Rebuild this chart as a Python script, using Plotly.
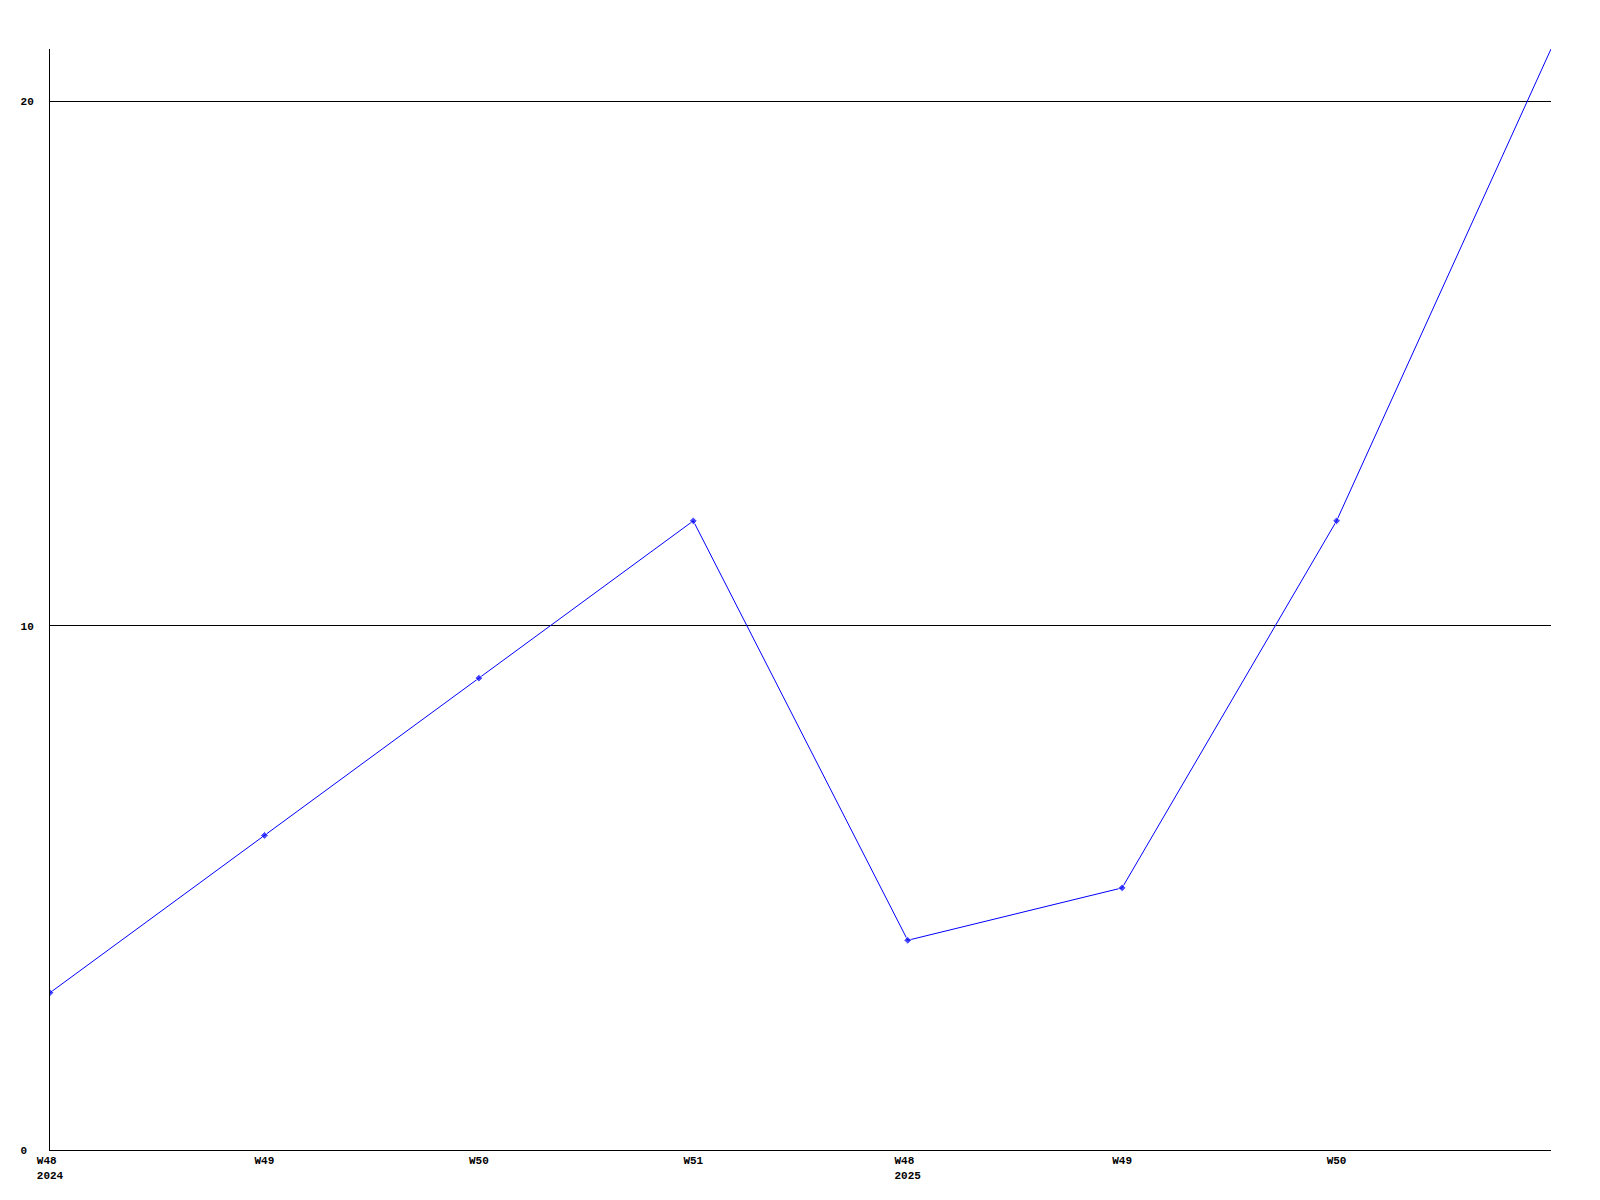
import plotly.graph_objects as go

weeks = ["W48", "W49", "W50", "W51", "W48", "W49", "W50", "W51"]
years = ["2024", "", "", "", "2025", "", "", ""]
values = [3, 6, 9, 12, 4, 5, 12, 21]
y_ticks = [0, 10, 20]

x_idx = list(range(len(values)))
labelled = x_idx[:-1]
tick_text = []
for i in labelled:
    if years[i]:
        tick_text.append(weeks[i] + "\u00a0<br>" + years[i])
    else:
        tick_text.append(weeks[i])

marker_sizes = [6] * (len(values) - 1) + [0]

font = dict(family="Liberation Mono", size=11, color="black", weight="bold")

fig = go.Figure()
fig.add_trace(go.Scatter(
    x=x_idx, y=values, mode="lines+markers",
    line=dict(color="#0000ff", width=1),
    marker=dict(symbol="diamond", size=marker_sizes, color="#0000ff"),
    cliponaxis=True, showlegend=False, hoverinfo="x+y",
))

fig.update_layout(
    width=1592, height=1192,
    margin=dict(l=42, r=49, t=41, b=50, autoexpand=False),
    paper_bgcolor="white", plot_bgcolor="white",
    font=font,
    xaxis=dict(
        range=[0, len(values) - 1], tickmode="array",
        tickvals=labelled, ticktext=tick_text, automargin=False,
        showgrid=False, zeroline=False, showline=True,
        linecolor="black", linewidth=1, ticks="", tickfont=font,
    ),
    yaxis=dict(
        range=[0, max(values)], tickmode="array",
        tickvals=y_ticks, ticktext=["0\u00a0", "10", "20"], automargin=False,
        showgrid=True, gridcolor="black", gridwidth=1,
        zeroline=False, showline=True, linecolor="black", linewidth=1,
        ticks="", ticklabelstandoff=13, tickfont=font,
    ),
)

fig.write_html("out.html")
